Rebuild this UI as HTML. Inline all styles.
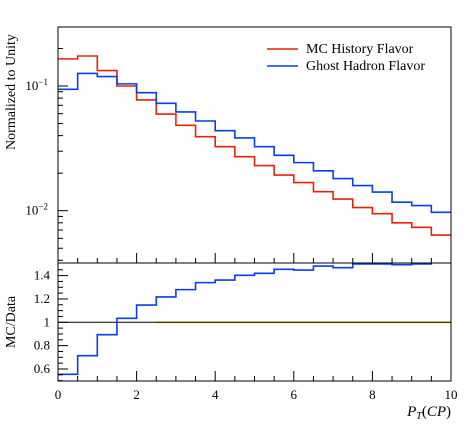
<!DOCTYPE html>
<html><head><meta charset="utf-8"><style>
body{margin:0;background:#fff;width:467px;height:421px;overflow:hidden}
svg{font-family:"Liberation Serif",serif}
</style></head><body>
<svg id="c" width="467" height="421"></svg>
<script>
const binEdgesStart = [0,0.5,1,1.5,2,2.5,3,3.5,4,4.5,5,5.5,6,6.5,7,7.5,8,8.5,9,9.5];
const binWidth = 0.5;
const redValues = [0.165,0.174,0.133,0.100,0.0773,0.0596,0.0484,0.0392,0.0326,0.0271,0.0230,0.0193,0.0168,0.0142,0.0124,0.0106,0.00946,0.0080,0.00736,0.00638];
const blueValues = [0.094,0.126,0.119,0.104,0.0884,0.0726,0.0619,0.0524,0.0438,0.0383,0.0326,0.0278,0.0243,0.0209,0.0181,0.0159,0.0141,0.0117,0.0110,0.0097];
const ratioValues = [0.554,0.714,0.894,1.034,1.148,1.217,1.28,1.34,1.362,1.403,1.42,1.454,1.448,1.482,1.468,1.5,1.5,1.494,1.5,1.55];
const xTicks = [0,2,4,6,8,10];
const ratioTicks = [0.6,0.8,1,1.2,1.4];
const ns="http://www.w3.org/2000/svg";
const svg=document.getElementById('c');
const L=58,R=451,T=27,M=263,B=381;
const X=v=>L+(v/10)*(R-L);
const Ylog=v=>86-(Math.log10(v)+1)*124.7;
const Yr=v=>322.3-(v-1)*116.7;
function el(t,a,p){const e=document.createElementNS(ns,t);for(const k in a)e.setAttribute(k,a[k]);(p||svg).appendChild(e);return e;}
const defs=el('defs',{});
const c1=el('clipPath',{id:'cm'},defs);el('rect',{x:L,y:T,width:R-L,height:M-T},c1);
const c2=el('clipPath',{id:'cr'},defs);el('rect',{x:L,y:M,width:R-L,height:B-M},c2);
const band=el('rect',{x:X(2.5),y:Yr(1.01),width:X(10)-X(2.5),height:Yr(0.99)-Yr(1.01),fill:'#f5f07a'});

const one=el('line',{x1:L,x2:R,y1:Yr(1),y2:Yr(1),stroke:'#000','stroke-width':1});

function step(vals,yf,color,clip,name){
  let d='';
  vals.forEach((v,i)=>{const x0=X(binEdgesStart[i]),x1=X(binEdgesStart[i]+binWidth),y=yf(v);d+=(i?'L':'M')+x0+','+y+'L'+x1+','+y;});
  const p=el('path',{d:d,fill:'none',stroke:color,'stroke-width':1.6,'clip-path':'url(#'+clip+')'});
  
}
step(redValues,Ylog,'#e8220a','cm','mc-history-flavor-line');
step(blueValues,Ylog,'#0a3cf0','cm','ghost-hadron-flavor-line');
step(ratioValues,Yr,'#0a3cf0','cr','ratio-ghost-hadron-line');
const f1=el('rect',{x:L,y:T,width:R-L,height:M-T,fill:'none',stroke:'#000','stroke-width':1});

const f2=el('rect',{x:L,y:M,width:R-L,height:B-M,fill:'none',stroke:'#000','stroke-width':1});

for(let v=0;v<=10;v+=0.5){
  const maj=Math.abs(v-Math.round(v/2)*2)<1e-9, len=maj?10:5;
  el('line',{x1:X(v),x2:X(v),y1:M,y2:M-len,stroke:'#000','stroke-width':1});
  el('line',{x1:X(v),x2:X(v),y1:B,y2:B-len,stroke:'#000','stroke-width':1});
}
xTicks.forEach(v=>{const t=el('text',{x:X(v),y:399,'font-size':13,'text-anchor':'middle'});t.textContent=v;
});
for(let e=-3;e<=-1;e++)for(let m=1;m<10;m++){const v=m*Math.pow(10,e);const y=Ylog(v);if(y<T||y>M)continue;
  el('line',{x1:L,x2:L+(m==1?10:5),y1:y,y2:y,stroke:'#000','stroke-width':1});}
[[-1,86],[-2,210.7]].forEach(([e,y])=>{const t=el('text',{x:48,y:y+4,'font-size':13,'text-anchor':'end'});t.innerHTML='10<tspan dy="-5" font-size="9">\u2212'+(-e)+'</tspan>';
});
for(let v=0.5;v<=1.5;v+=0.05){el('line',{x1:L,x2:L+(Math.abs(v*10-Math.round(v*10))<1e-6&&Math.round(v*10)%2==0?10:5),y1:Yr(v),y2:Yr(v),stroke:'#000','stroke-width':1});}
ratioTicks.forEach(v=>{const t=el('text',{x:50,y:Yr(v)+4,'font-size':13,'text-anchor':'end'});t.textContent=v;
});
let t=el('text',{x:0,y:0,'font-size':14,'text-anchor':'middle',transform:'translate(15,92) rotate(-90)'});t.textContent='Normalized to Unity';

t=el('text',{x:0,y:0,'font-size':14,'text-anchor':'middle',transform:'translate(15,322) rotate(-90)'});t.textContent='MC/Data';

t=el('text',{x:451,y:416,'font-size':15,'text-anchor':'end','font-style':'italic'});t.innerHTML='P<tspan dy="3" font-size="10">T</tspan><tspan dy="-3" font-style="normal">(</tspan>CP<tspan font-style="normal">)</tspan>';

[['MC History Flavor','#e8220a',52],['Ghost Hadron Flavor','#0a3cf0',69]].forEach(([n,c,y])=>{
  const g=el('g',{});
  el('line',{x1:267,x2:298,y1:y-3,y2:y-3,stroke:c,'stroke-width':1.6},g);
  const tx=el('text',{x:306,y:y+1,'font-size':14},g);tx.textContent=n;});
</script>
</body></html>
